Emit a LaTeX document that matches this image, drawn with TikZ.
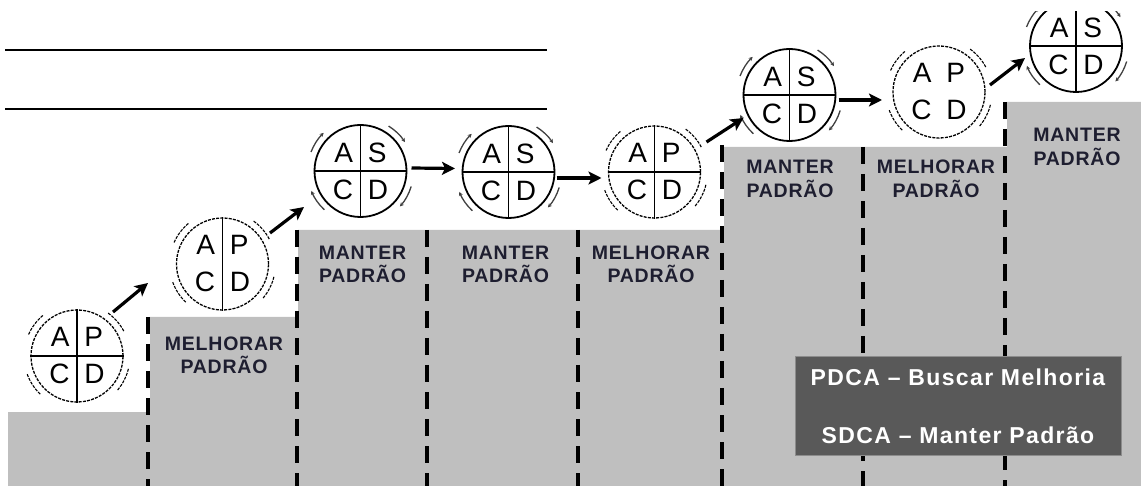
\documentclass[tikz,border=0pt]{standalone}
\usepackage{fontspec}
\setmainfont{Liberation Sans}
\newfontfamily\stepfont{Liberation Sans}[LetterSpace=4.0]
\newfontfamily\legendfont{Liberation Sans}[LetterSpace=6.0]
\usepackage{xcolor}
\usetikzlibrary{arrows.meta}
\definecolor{stepgray}{HTML}{BFBFBF}
\definecolor{legendgray}{HTML}{595959}
\definecolor{labelink}{HTML}{1E1E30}

\begin{document}
\begin{tikzpicture}[x=1pt,y=-1pt,
  pdca/.style={circle,draw,line width=1.3pt,dash pattern=on 3pt off 1.2pt,minimum size=92pt,inner sep=0pt,align=center,font=\fontsize{28}{37}\selectfont},
  sdca/.style={circle,draw,line width=1.8pt,minimum size=92pt,inner sep=0pt,align=center,font=\fontsize{28}{37}\selectfont},
  pdcaarc/.style={line width=1.1pt,dash pattern=on 3pt off 1.2pt},
  sdcaarc/.style={line width=1.3pt,draw=black!75,-{Stealth[length=4pt,width=4pt]}},
  cross/.style={line width=1.5pt},
  stepto/.style={line width=3.2pt,-{Stealth[length=13pt,width=13pt,inset=3pt]}},
  stepline/.style={line width=3.5pt,dash pattern=on 17pt off 10pt},
  steplabel/.style={font=\stepfont\bfseries\fontsize{19.5}{23.5}\selectfont,text=labelink,align=center,inner sep=0pt}]
\useasboundingbox (0,0) rectangle (1141,486);
\draw[line width=2pt] (5,50)--(547,50);
\draw[line width=2pt] (5,109)--(547,109);
% degraus
\fill[stepgray] (8,486)--(8,412)--(150,412)--(150,317)--(298,317)--(298,230)--(724,230)--(724,147)--(1007,147)--(1007,102)--(1141,102)--(1141,486)--cycle;
\draw[stepline] (148,317)--(148,486);
\draw[stepline] (297,230)--(297,486);
\draw[stepline] (427,230)--(427,486);
\draw[stepline] (578,230)--(578,486);
\draw[stepline] (722,145)--(722,486);
\draw[stepline] (863,147)--(863,486);
\draw[stepline] (1005,102)--(1005,486);
\node[steplabel] (l2) at (224,355.5) {MELHORAR\\PADRÃO};
\node[steplabel] (l3) at (362.5,264.5) {MANTER\\PADRÃO};
\node[steplabel] (l4) at (505.5,264.5) {MANTER\\PADRÃO};
\node[steplabel] (l5) at (651,264.5) {MELHORAR\\PADRÃO};
\node[steplabel] (l6) at (790,179) {MANTER\\PADRÃO};
\node[steplabel] (l7) at (936,179) {MELHORAR\\PADRÃO};
\node[steplabel] (l8) at (1077,147) {MANTER\\PADRÃO};
% ciclos
\node[pdca] (c1) at (77,356) {A\hspace{15pt}P\\C\hspace{15pt}D};
\draw[cross] (c1.north)--(c1.south);
\draw[cross] (c1.west)--(c1.east);
\node[pdca] (c2) at (222.5,264) {A\hspace{15pt}P\\C\hspace{15pt}D};
\draw[cross] (c2.north)--(c2.south);
\node[sdca] (c3) at (360.5,171) {A\hspace{15pt}S\\C\hspace{15pt}D};
\draw[cross] (c3.north)--(c3.south);
\draw[cross] (c3.west)--(c3.east);
\node[sdca] (c4) at (508.5,172) {A\hspace{15pt}S\\C\hspace{15pt}D};
\draw[cross] (c4.north)--(c4.south);
\draw[cross] (c4.west)--(c4.east);
\node[pdca] (c5) at (654.5,172) {A\hspace{15pt}P\\C\hspace{15pt}D};
\draw[cross] (c5.north)--(c5.south);
\draw[cross] (c5.west)--(c5.east);
\node[sdca] (c6) at (789.5,95) {A\hspace{15pt}S\\C\hspace{15pt}D};
\draw[cross] (c6.north)--(c6.south);
\draw[cross] (c6.west)--(c6.east);
\node[pdca] (c7) at (939,92) {A\hspace{15pt}P\\C\hspace{15pt}D};
\begin{scope}
\clip (1000,12) rectangle (1141,140);
\node[sdca] (c8) at (1076,46) {A\hspace{15pt}S\\C\hspace{15pt}D};
\draw[cross] (c8.north)--(c8.south);
\draw[cross] (c8.west)--(c8.east);
\foreach \a in {134,33,202,318} \draw[sdcaarc] (c8.center) ++(-\a-25:53) arc[start angle=-\a-25,delta angle=25,radius=53];
\end{scope}
\foreach \c in {c1,c2,c5,c7}
  \foreach \a in {130,28,200,320} \draw[pdcaarc] (\c.center) ++(-\a-26:53) arc[start angle=-\a-26,delta angle=26,radius=53];
\foreach \c in {c3,c4,c6}
  \foreach \a in {134,33,202,318} \draw[sdcaarc] (\c.center) ++(-\a-25:53) arc[start angle=-\a-25,delta angle=25,radius=53];
% setas
\draw[stepto] ([shift={(36,-44)}]c1.center)--([shift={(-74.5,19)}]c2.center);
\draw[stepto] ([shift={(47.5,-31)}]c2.center)--([shift={(-56.5,36)}]c3.center);
\draw[stepto] ([shift={(51,-3)}]c3.center)--([shift={(-53.5,-3.5)}]c4.center);
\draw[stepto] ([shift={(48,6)}]c4.center)--([shift={(-53,6)}]c5.center);
\draw[stepto] ([shift={(52,-30)}]c5.center)--([shift={(-46,23)}]c6.center);
\draw[stepto] ([shift={(49,5)}]c6.center)--([shift={(-57,8)}]c7.center);
\draw[stepto] ([shift={(51,-7)}]c7.center)--([shift={(-51,12)}]c8.center);
% legenda
\node[draw=black!45,line width=1pt,fill=legendgray,text=white,font=\legendfont\bfseries\fontsize{23}{58}\selectfont,minimum width=326pt,minimum height=98pt,align=center] (legend) at (958,406) {PDCA – Buscar Melhoria\\SDCA – Manter Padrão};
\end{tikzpicture}
\end{document}
